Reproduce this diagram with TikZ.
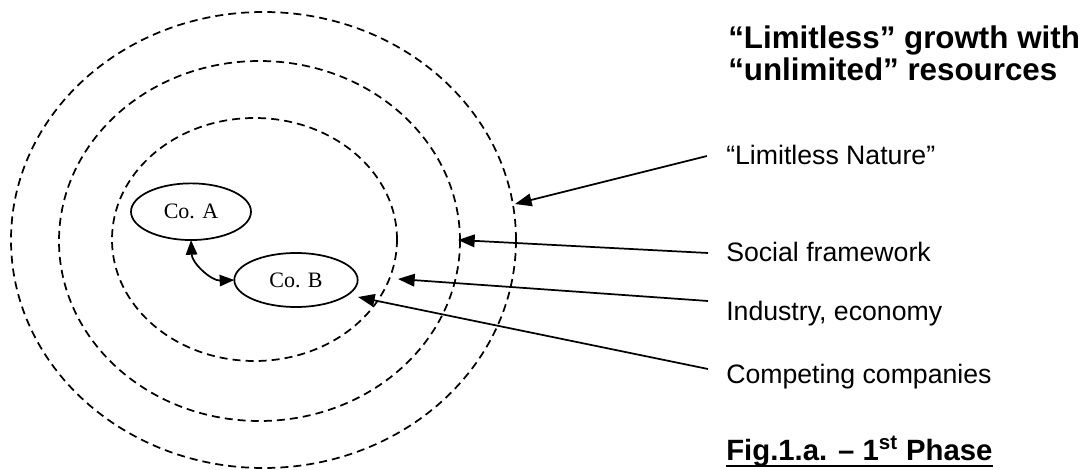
\documentclass[tikz,border=0pt]{standalone}
\usepackage{fontspec}
\setmainfont{Liberation Serif}
\newfontfamily\arialfont{Liberation Sans}
\usetikzlibrary{arrows.meta,shapes.geometric}
\begin{document}
\begin{tikzpicture}[x=0.75pt,y=-0.75pt,
  ring/.style={ellipse,draw,line width=1.3pt,dash pattern=on 6pt off 3.8pt,inner sep=0pt,outer sep=0pt},
  co/.style={ellipse,draw,line width=1.3pt,inner sep=0pt,outer sep=0pt,font=\fontsize{16.5}{19}\selectfont},
  lab/.style={anchor=base west,inner sep=0pt,font=\arialfont\fontsize{20}{24}\selectfont},
  ttl/.style={anchor=base west,inner sep=0pt,font=\arialfont\bfseries\fontsize{23.5}{28}\selectfont},
  arr/.style={line width=1.3pt,-{Triangle[length=12.5pt,width=9.5pt]}},
  darr/.style={line width=1.3pt,{Triangle[length=11pt,width=8.5pt]}-{Triangle[length=11pt,width=8.5pt]}}]
\useasboundingbox (0,0) rectangle (1090,470);
% rings
\node[ring,minimum width=378.75pt,minimum height=342pt] (outer) at (263.5,240) {};
\node[ring,minimum width=300.75pt,minimum height=270pt] (middle) at (259.5,241) {};
\node[ring,minimum width=213.75pt,minimum height=182.25pt] (inner) at (254.5,239.5) {};
% companies
\node[co,minimum width=90pt,minimum height=42.5pt] (coA) at (191,211.7) {Co. A};
\node[co,minimum width=92.5pt,minimum height=40.5pt] (coB) at (296,280) {Co. B};
\draw[darr] (coA.south) to[bend right=45] (coB.west);
% title
\node[ttl] (t1) at (728,49) {“Limitless” growth with};
\node[ttl] (t2) at (728,81) {“unlimited” resources};
% labels
\node[lab] (l1) at (726,165) {“Limitless Nature”};
\node[lab] (l2) at (726,262) {Social framework};
\node[lab] (l3) at (726,321) {Industry, economy};
\node[lab] (l4) at (726,384) {Competing companies};
% arrow ends
\coordinate (s1) at (707,156);
\coordinate (s2) at (708,253);
\coordinate (s3) at (708,301);
\coordinate (s4) at (708,369);
\coordinate (e1) at (515,204);
\coordinate (e2) at (458,240);
\coordinate (e3) at (398,279);
\coordinate (e4) at (358,297);
\draw[arr] (s1) -- (e1);
\draw[arr] (s2) -- (e2);
\draw[arr] (s3) -- (e3);
\draw[arr] (s4) -- (e4);
% caption
\node[ttl,font=\arialfont\bfseries\fontsize{22}{26}\selectfont] (cap) at (726,460) {Fig.1.a. – 1\textsuperscript{st} Phase};
\draw[line width=2pt] ([yshift=-4.5pt]cap.base west) -- ([yshift=-4.5pt]cap.base east);
\end{tikzpicture}
\end{document}
